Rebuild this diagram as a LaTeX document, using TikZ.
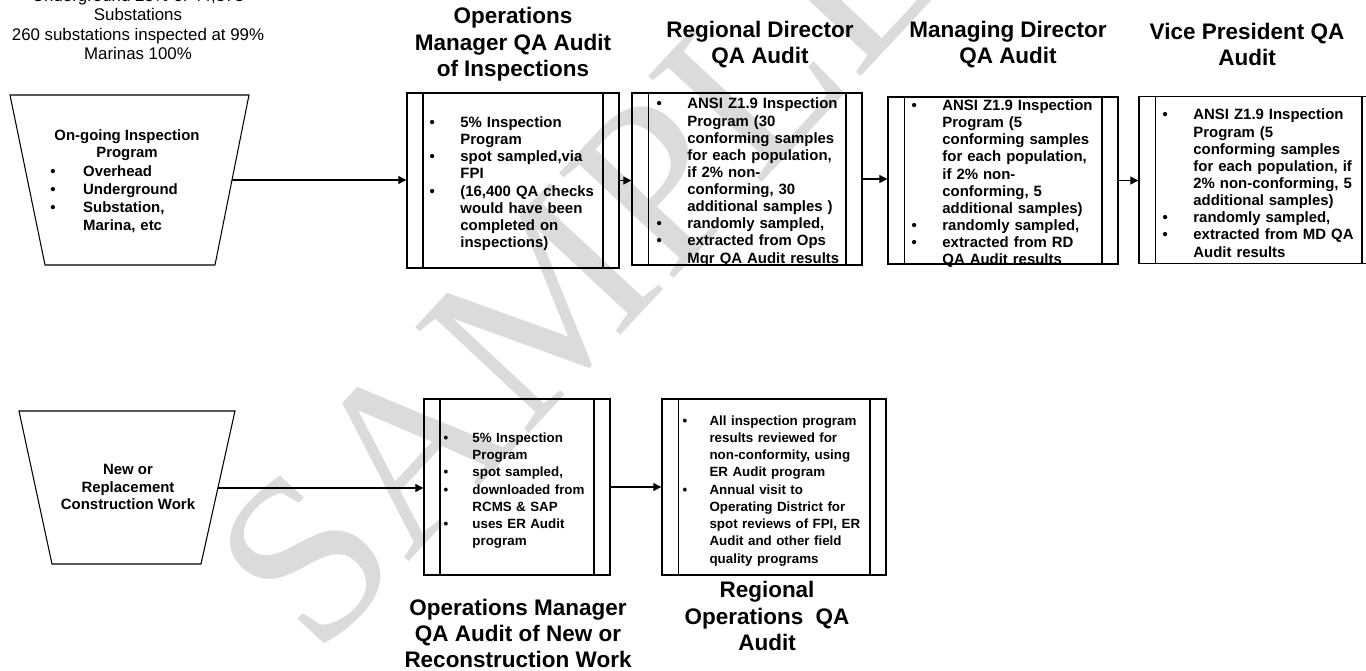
\documentclass[tikz,border=0pt]{standalone}
\usepackage{fontspec}
\setmainfont{Liberation Sans}
\newfontfamily\wmfont{Liberation Serif}
\usetikzlibrary{arrows.meta}

\newlength\bulgap
\setlength\bulgap{17.5pt}
\newcommand\itm{\par\leftskip=\bulgap\noindent\llap{\hbox to\bulgap{\textbullet\hss}}}

\tikzset{
    procbox/.style 2 args={draw, line width=0.8pt, minimum width=#1, minimum height=#2, inner sep=0pt,
        path picture={
            \draw[line width=0.6pt] ([xshift=0.32cm]path picture bounding box.north west) -- ([xshift=0.32cm]path picture bounding box.south west);
            \draw[line width=0.6pt] ([xshift=-0.32cm]path picture bounding box.north east) -- ([xshift=-0.32cm]path picture bounding box.south east);
        }},
    proctxt/.style={font=\bfseries\fontsize{8.5}{9.75}\selectfont, align=left, text width=4.4cm, inner sep=0pt, anchor=west},
    trapline/.style={draw, line width=0.6pt},
    trapfont/.style={font=\bfseries\fontsize{8.5}{10}\selectfont, inner sep=0pt},
    title/.style={font=\bfseries\fontsize{12.8}{15}\selectfont, align=center, inner sep=0pt},
    arr/.style={-{Triangle[length=4.5pt,width=4.5pt]}, line width=0.6pt},
}

\begin{document}
\begin{tikzpicture}[x=0.02cm, y=-0.02cm]

    \useasboundingbox (0,0) rectangle (1366,670);

    % Watermark
    \node[rotate=47, text=black!14, font=\wmfont\fontsize{135}{135}\selectfont] (sample) at (580,265) {SAMPLE};

    % Note
    \node[align=center, inner sep=0pt, font=\fontsize{9.6}{10.9}\selectfont] (note) at (138,24.5)
        {Underground 25\% of 44,373\\Substations\\260 substations inspected at 99\%\\Marinas 100\%};

    % Sources
    \draw[trapline] (10,95) -- (249,95) -- (215,265) -- (45,265) -- cycle;
    \coordinate (ongoing) at (232,180);
    \node[trapfont, align=center] (ongoingtitle) at (127,145) {On-going Inspection\\Program};
    \node[trapfont, font=\bfseries\fontsize{8.5}{10.3}\selectfont, text width=3.1cm, align=left, anchor=north west] (ongoinglist) at (50,158)
        {\setlength\bulgap{18.7pt}\itm Overhead\itm Underground\itm Substation,\\Marina, etc\par};

    \draw[trapline] (19,411) -- (235,411) -- (201,564) -- (52,564) -- cycle;
    \coordinate (newwork) at (218,488);
    \node[trapfont, align=center] (newworktxt) at (128,487) {New or\\Replacement\\Construction Work};

    % Audit boxes
    \node[procbox={4.24cm}{3.5cm}] (om1) at (513,180.5) {};
    \node[procbox={4.6cm}{3.44cm}] (rd) at (747,179) {};
    \node[procbox={4.6cm}{3.34cm}] (md) at (1003,180.5) {};
    \node[procbox={4.78cm}{3.34cm}] (vp) at (1258.5,180) {};
    \node[procbox={3.72cm}{3.52cm}] (om2) at (517,487) {};
    \node[procbox={4.48cm}{3.52cm}] (roa) at (774,487) {};

    % Box texts
    \node[proctxt] (om1txt) at ([xshift=0.46cm]om1.west)
        {\itm 5\% Inspection\\Program
         \itm spot sampled,via\\FPI
         \itm (16,400 QA checks\\would have been\\completed on\\inspections)\par};
    \node[proctxt] (rdtxt) at ([xshift=0.5cm]rd.west)
        {\itm ANSI Z1.9 Inspection\\Program (30\\conforming samples\\for each population,\\if 2\% non-\\conforming, 30\\additional samples )
         \itm randomly sampled,
         \itm extracted from Ops\\Mgr QA Audit results\par};
    \node[proctxt] (mdtxt) at ([xshift=0.48cm]md.west)
        {\itm ANSI Z1.9 Inspection\\Program (5\\conforming samples\\for each population,\\if 2\% non-\\conforming, 5\\additional samples)
         \itm randomly sampled,
         \itm extracted from RD\\QA Audit results\par};
    \node[proctxt] (vptxt) at ([xshift=0.48cm]vp.west)
        {\itm ANSI Z1.9 Inspection\\Program (5\\conforming samples\\for each population, if\\2\% non-conforming, 5\\additional samples)
         \itm randomly sampled,
         \itm extracted from MD QA\\Audit results\par};
    \node[proctxt, font=\bfseries\fontsize{7.6}{9.8}\selectfont] (om2txt) at ([xshift=0.4cm]om2.west)
        {\setlength\bulgap{16.4pt}%
         \itm 5\% Inspection\\Program
         \itm spot sampled,
         \itm downloaded from\\RCMS \& SAP
         \itm uses ER Audit\\program\par};
    \node[proctxt, font=\bfseries\fontsize{7.6}{9.8}\selectfont] (roatxt) at ([xshift=0.42cm]roa.west)
        {\setlength\bulgap{15.3pt}%
         \itm All inspection program\\results reviewed for\\non-conformity, using\\ER Audit program
         \itm Annual visit to\\Operating District for\\spot reviews of FPI, ER\\Audit and other field\\quality programs\par};

    % Titles
    \node[title] (om1title) at (513,44.5) {Operations\\Manager QA Audit\\of Inspections};
    \node[title] (rdtitle) at (760,44.5) {Regional Director\\QA Audit};
    \node[title] (mdtitle) at (1008,44.5) {Managing Director\\QA Audit};
    \node[title] (vptitle) at (1247,44.5) {Vice President QA\\Audit};
    \node[title] (om2title) at (518,633.5) {Operations Manager\\QA Audit of New or\\Reconstruction Work};
    \node[title] (roatitle) at (767,616) {Regional\\Operations\ \ QA\\Audit};

    % Arrows
    \draw[arr] (ongoing) -- (ongoing -| om1.west);
    \draw[arr] (om1) -- (om1 -| rd.west);
    \draw[arr] (rd) -- (rd -| md.west);
    \draw[arr] (md) -- (md -| vp.west);
    \draw[arr] (newwork) -- (newwork -| om2.west);
    \draw[arr] (om2) -- (om2 -| roa.west);

\end{tikzpicture}
\end{document}
